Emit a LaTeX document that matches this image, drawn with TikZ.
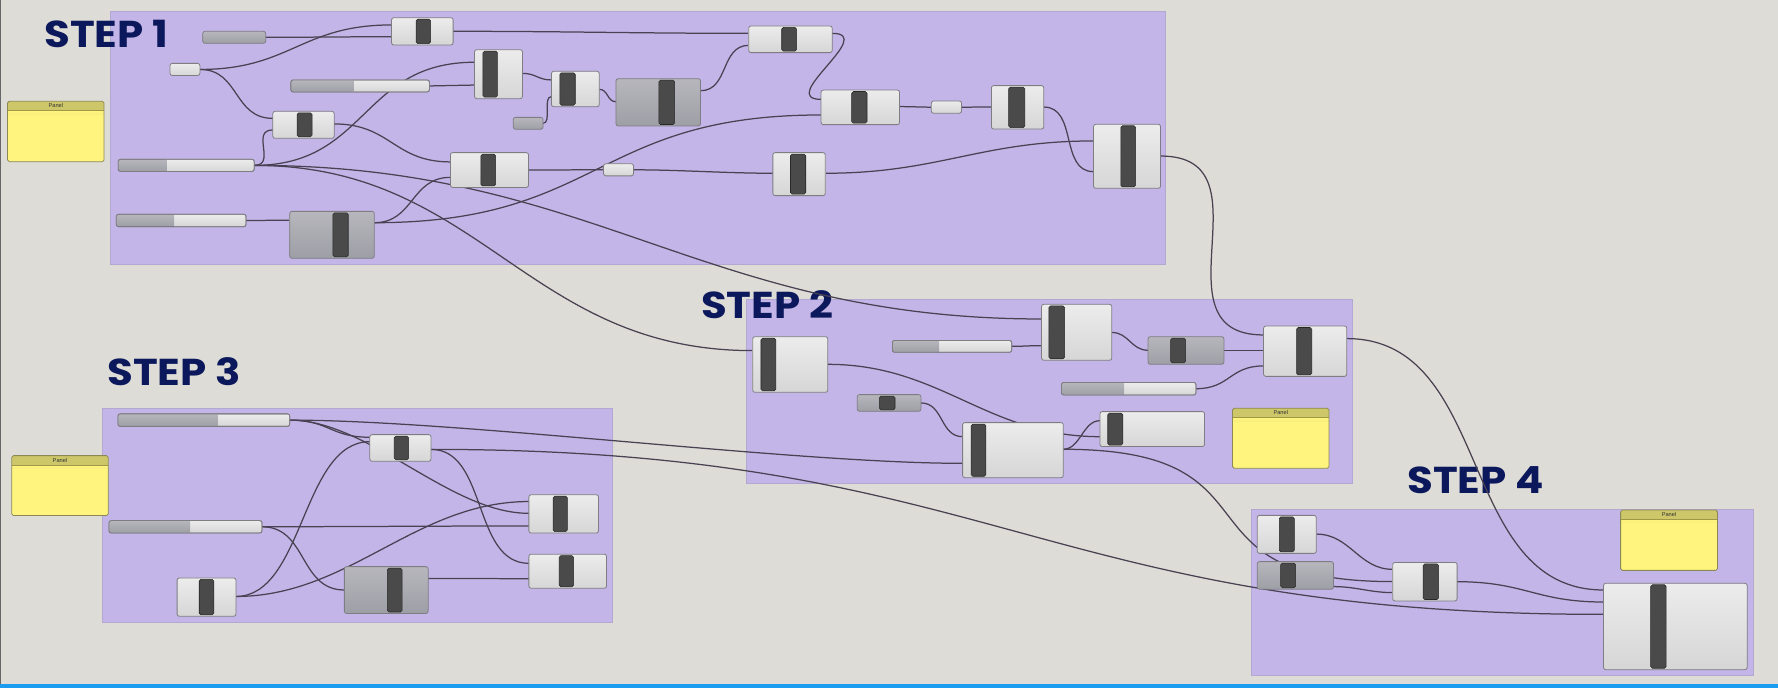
\documentclass[tikz,border=0pt]{standalone}
\usepackage{graphicx}
\usepackage{fontspec}
\newfontfamily\titlefont{Poppins}
\newfontfamily\panelfont{Liberation Sans}
\definecolor{bgc}{RGB}{222,220,214}
\definecolor{grpc}{RGB}{196,181,232}
\definecolor{grpb}{RGB}{178,168,210}
\definecolor{lctop}{RGB}{236,236,236}
\definecolor{lcbot}{RGB}{214,214,214}
\definecolor{gctop}{RGB}{182,182,188}
\definecolor{gcbot}{RGB}{158,158,166}
\definecolor{compborder}{RGB}{125,125,130}
\definecolor{barfill}{RGB}{74,74,74}
\definecolor{barborder}{RGB}{40,40,40}
\definecolor{wirecol}{RGB}{72,66,82}
\definecolor{titlec}{RGB}{12,24,92}
\definecolor{panelhead}{RGB}{206,199,106}
\definecolor{panelbody}{RGB}{255,245,126}
\definecolor{panelborder}{RGB}{140,136,86}
\definecolor{panelline}{RGB}{160,152,70}
\definecolor{bluebar}{RGB}{28,156,240}
\pgfdeclarelayer{bg}
\pgfdeclarelayer{wires}
\pgfsetlayers{bg,wires,main}
\tikzset{
  lightcomp/.style={draw=compborder, line width=0.7pt, rounded corners=2pt, top color=lctop, bottom color=lcbot, inner sep=0pt, outer sep=0pt},
  graycomp/.style={draw=compborder, line width=0.7pt, rounded corners=2pt, top color=gctop, bottom color=gcbot, inner sep=0pt, outer sep=0pt},
  barstyle/.style={fill=barfill, draw=barborder, line width=0.5pt, rounded corners=1.5pt},
  wire/.style={draw=wirecol, line width=1.1pt},
  grp/.style={fill=grpc, draw=grpb, line width=0.8pt},
  steptitle/.style={font=\titlefont\bfseries\fontsize{33}{33}\selectfont, text=titlec, inner sep=0pt, anchor=base west},
  paneltext/.style={font=\panelfont\fontsize{5}{5}\selectfont, text=black!80, inner sep=0pt}
}
\newcommand\steptext[1]{\scalebox{1.12}[1]{#1}}
\newcommand\bx[6]{%
  \node[#6, minimum width={(#4-#2)*1pt}, minimum height={(#5-#3)*1pt}] (#1) at ({(#2+#4)/2},{(#3+#5)/2}) {};}
\newcommand\comp[8]{%
  \bx{#1}{#2}{#3}{#4}{#5}{#8}%
  \filldraw[barstyle] ({#6},{#3+1.3}) rectangle ({#7},{#5-1.3});}
\newcommand\slider[6]{%
  \bx{#1}{#2}{#3}{#4}{#5}{lightcomp}%
  \begin{scope}
    \clip[rounded corners=2pt] ({#2},{#3}) rectangle ({#4},{#5});
    \fill[top color=gctop, bottom color=gcbot] ({#2},{#3}) rectangle ({#6},{#5});
  \end{scope}
  \draw[compborder, line width=0.7pt, rounded corners=2pt] ({#2},{#3}) rectangle ({#4},{#5});}
\newcommand\panel[6]{%
  \node[fill=panelbody, inner sep=0pt, outer sep=0pt, rounded corners=1.5pt, minimum width={(#4-#2)*1pt}, minimum height={(#5-#3)*1pt}] (#1) at ({(#2+#4)/2},{(#3+#5)/2}) {};
  \begin{scope}
    \clip[rounded corners=1.5pt] ({#2},{#3}) rectangle ({#4},{#5});
    \fill[panelhead] ({#2},{#3}) rectangle ({#4},{#6});
    \fill[top color=panelbody, bottom color=panelbody!85!panelhead] ({#2},{#6}) rectangle ({#4},{#6+3});
    \draw[panelline, line width=0.8pt] ({#2},{#6}) -- ({#4},{#6});
  \end{scope}
  \draw[panelborder, line width=0.7pt, rounded corners=1.5pt] ({#2},{#3}) rectangle ({#4},{#5});
  \node[paneltext] (#1t) at ({(#2+#4)/2},{(#3+#6)/2}) {Panel};}
\newcommand\wire[3]{\draw[wire] #1 .. controls +(#3,0) and +(-#3,0) .. #2;}
\begin{document}
\begin{tikzpicture}[x=1pt,y=-1pt]
\useasboundingbox (0,0) rectangle (1568,607);
\begin{pgfonlayer}{bg}
  \fill[bgc] (0,0) rectangle (1568,607);
  \fill[black!60] (0,0) rectangle (1,607);
  \fill[bluebar] (0,603) rectangle (1568,607);
  \filldraw[grp] (97,10.5) rectangle (1028,233);
  \filldraw[grp] (658.5,264) rectangle (1193,426.5);
  \filldraw[grp] (90.5,360) rectangle (540,548.5);
  \filldraw[grp] (1103.5,449.5) rectangle (1546,595.5);
  \node[steptitle] (t1) at (39,42) {\steptext{STEP 1}};
  \node[steptitle] (t2) at (618,281.3) {\steptext{STEP 2}};
  \node[steptitle] (t3) at (94.5,340) {\steptext{STEP 3}};
  \node[steptitle] (t4) at (1241,435) {\steptext{STEP 4}};
\end{pgfonlayer}

% ---------- STEP 1 ----------
\bx{A1}{178.8}{27.6}{234.3}{38.2}{graycomp}
\bx{B1}{149.9}{55.9}{176.3}{66.6}{lightcomp}
\comp{C1}{345.3}{15.6}{399.6}{39.7}{366.9}{379.7}{lightcomp}
\comp{C2}{418.5}{43.8}{460.7}{87}{425.9}{438.7}{lightcomp}
\slider{S1}{256.5}{70.5}{378.7}{81.1}{311.7}
\comp{C3}{486.3}{62.9}{528.5}{94.1}{493.7}{507.3}{lightcomp}
\bx{G1}{452.6}{103.5}{478.9}{114}{graycomp}
\comp{C4}{240.6}{98.2}{294.7}{122}{262}{275.2}{lightcomp}
\slider{S2}{104.3}{140.5}{224.2}{151.2}{146.8}
\comp{C5}{397.2}{134.6}{466.1}{165.3}{424.1}{437.1}{lightcomp}
\slider{S3}{102.6}{189}{217}{199.9}{153.6}
\comp{C6}{255.5}{186.4}{330.1}{227.8}{293.6}{307.1}{graycomp}
\comp{C7}{543.2}{69.4}{617.8}{111.1}{581}{594.9}{graycomp}
\comp{C8}{660.3}{22.9}{733.9}{46.4}{689.4}{702.5}{lightcomp}
\comp{C9}{724.1}{79.4}{793.3}{109.9}{751.1}{764.6}{lightcomp}
\bx{B2}{821.3}{89.1}{848}{99.9}{lightcomp}
\comp{C10}{874.3}{75.5}{920.5}{113.8}{889.5}{903.7}{lightcomp}
\comp{C11}{964.4}{109.6}{1023.5}{166.1}{988.4}{1001.5}{lightcomp}
\bx{B3}{532.3}{144.4}{558.7}{155.1}{lightcomp}
\comp{C12}{681.6}{134.6}{727.8}{172.5}{697.1}{710.6}{lightcomp}
\panel{P1}{6.7}{89.3}{91.8}{142.6}{97.6}

% ---------- STEP 2 ----------
\comp{D1}{663.8}{296.9}{730}{346}{671.1}{684.1}{lightcomp}
\slider{S4}{787}{300.2}{892.2}{310.7}{828.3}
\comp{D2}{918.5}{268.4}{980.5}{317.7}{925}{938.8}{lightcomp}
\comp{D3}{1012.4}{296.9}{1079.4}{321.3}{1032.3}{1045.5}{graycomp}
\comp{D4}{1114.3}{287.5}{1187.7}{331.9}{1143.4}{1156.8}{lightcomp}
\slider{S5}{936.1}{337.3}{1054.7}{348.3}{991.4}
\comp{D5}{756}{348}{812.2}{362.7}{775.5}{789.3}{graycomp}
\comp{D6}{848.9}{372.7}{937.7}{421.3}{856.4}{869.5}{lightcomp}
\comp{D7}{970}{363}{1062.3}{393.8}{976.9}{990.2}{lightcomp}
\panel{P2}{1087}{360}{1172}{413}{368.3}

% ---------- STEP 3 ----------
\slider{S6}{104}{365}{255.5}{376}{191.9}
\comp{E1}{326.1}{383.3}{380.1}{406.8}{347.7}{360.3}{lightcomp}
\slider{S7}{96.1}{459.1}{231.1}{470}{167.7}
\comp{E2}{466.4}{436.3}{527.8}{470.1}{487.8}{500.4}{lightcomp}
\comp{E3}{466.4}{488.7}{534.9}{518.8}{493.2}{505.8}{lightcomp}
\comp{E4}{156.2}{509.7}{208.1}{543.5}{175.7}{188.6}{lightcomp}
\comp{E5}{303.7}{499.7}{377.6}{541}{341.6}{354.6}{graycomp}
\panel{P3}{10.4}{401.8}{95.4}{454.7}{410.3}

% ---------- STEP 4 ----------
\comp{F1}{1108.7}{454.5}{1160.8}{488}{1128.2}{1141.4}{lightcomp}
\comp{F2}{1108.7}{495.3}{1176}{519.6}{1129.4}{1142.6}{graycomp}
\comp{F3}{1228.2}{496}{1285}{530}{1255}{1268.7}{lightcomp}
\comp{F4}{1414.1}{514.4}{1540.8}{590.6}{1455.7}{1469.3}{lightcomp}
\panel{P4}{1429.2}{449.8}{1514.6}{503}{458}

% ---------- WIRES ----------
\begin{pgfonlayer}{wires}
\wire{(A1.east)}{(C1.west |- 0,32.4)}{40}
\wire{(B1.east)}{(C1.west |- 0,22)}{80}
\wire{(B1.east)}{(C4.west |- 0,104.4)}{35}
\wire{(C1.east |- 0,27.6)}{(C8.west |- 0,29.4)}{100}
\wire{(S1.east)}{(C2.west |- 0,75)}{20}
\wire{(S2.east)}{(C2.west |- 0,54.9)}{100}
\wire{(S2.east)}{(C4.west |- 0,114.6)}{20}
\wire{(C4.east |- 0,109.3)}{(C5.west |- 0,142.8)}{50}
\wire{(S2.east)}{(D2.west |- 0,281.3)}{300}
\wire{(S2.east)}{(D1.west |- 0,309.2)}{200}
\wire{(S3.east)}{(C6.west |- 0,194.2)}{15}
\wire{(C6.east |- 0,196.4)}{(C5.west |- 0,156.4)}{35}
\wire{(C6.east |- 0,196.4)}{(C9.west |- 0,101.4)}{200}
\wire{(C5.east |- 0,149.9)}{(B3.west)}{20}
\wire{(B3.east)}{(C12.west |- 0,152.8)}{40}
\wire{(C12.east |- 0,152.8)}{(C11.west |- 0,124.3)}{100}
\wire{(C2.east |- 0,64.7)}{(C3.west |- 0,70.5)}{12}
\wire{(G1.east)}{(C3.west |- 0,85.2)}{8}
\wire{(C3.east |- 0,78.8)}{(C7.west |- 0,89.7)}{8}
\wire{(C7.east |- 0,80)}{(C8.west |- 0,40)}{25}
\wire{(C8.east |- 0,29.4)}{(C9.west |- 0,87.6)}{40}
\wire{(C9.east |- 0,94)}{(B2.west)}{10}
\wire{(B2.east)}{(C10.west |- 0,94.4)}{10}
\wire{(C10.east |- 0,94.4)}{(C11.west |- 0,151.4)}{30}
\wire{(C11.east |- 0,137.6)}{(D4.west |- 0,295.4)}{100}
% step 2
\wire{(S4.east)}{(D2.west |- 0,304.8)}{10}
\wire{(D2.east |- 0,293.2)}{(D3.west |- 0,308.9)}{15}
\wire{(D3.east |- 0,309.1)}{(D4.west |- 0,309.1)}{10}
\wire{(S5.east)}{(D4.west |- 0,322.7)}{30}
\wire{(D4.east |- 0,298.6)}{(F4.west |- 0,520.3)}{130}
\wire{(D5.east)}{(D6.west |- 0,385.1)}{20}
\wire{(D1.east |- 0,321.3)}{(D7.west |- 0,385.1)}{100}
\wire{(D6.east |- 0,396.2)}{(D7.west |- 0,371)}{15}
\wire{(D6.east |- 0,396.2)}{(F3.west |- 0,512.9)}{200}
\wire{(S6.east)}{(D6.west |- 0,408.6)}{150}
\wire{(E1.east |- 0,396.3)}{(F4.west |- 0,541.8)}{500}
% step 3
\wire{(S6.east)}{(E1.west |- 0,385.6)}{35}
\wire{(S6.east)}{(E2.west |- 0,452.7)}{70}
\wire{(E4.east |- 0,526)}{(E1.west |- 0,389.5)}{60}
\wire{(E4.east |- 0,526)}{(E2.west |- 0,442.3)}{100}
\wire{(E1.east |- 0,396.3)}{(E3.west |- 0,496.8)}{50}
\wire{(S7.east)}{(E2.west |- 0,463.8)}{50}
\wire{(S7.east)}{(E5.west |- 0,520.3)}{40}
\wire{(E5.east |- 0,510.2)}{(E3.west |- 0,510.3)}{30}
% step 4
\wire{(F1.east |- 0,471)}{(F3.west |- 0,502.1)}{30}
\wire{(F2.east |- 0,517.3)}{(F3.west |- 0,522.6)}{20}
\wire{(F3.east |- 0,513)}{(F4.west |- 0,530.9)}{60}
\end{pgfonlayer}
\end{tikzpicture}
\end{document}
